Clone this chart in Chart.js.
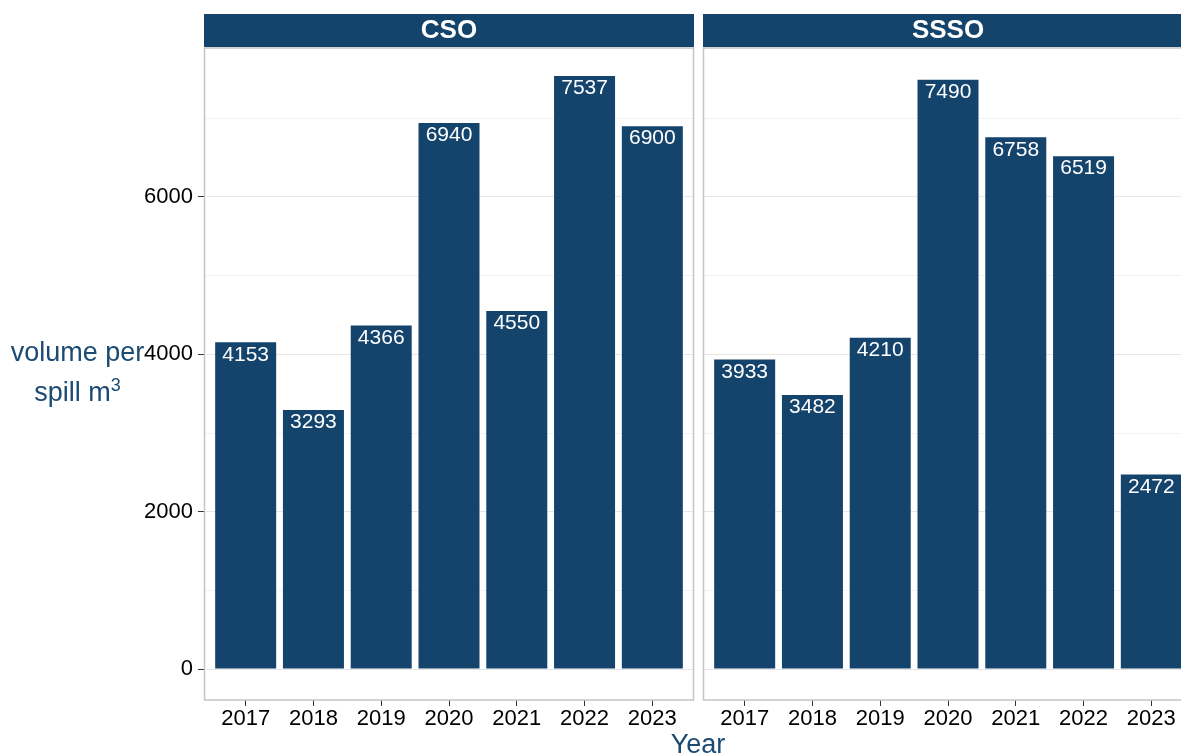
<!DOCTYPE html>
<html lang="en">

<head>
  <meta charset="UTF-8">
  <title>Volume per spill</title>
  <script src="https://cdn.jsdelivr.net/npm/chart.js"></script>
</head>
<style>
  body {
    margin: 0;
    background-color: #fff;
    font-family: 'Liberation Sans', Arial, sans-serif;
    width: 1181px;
    height: 756px;
    overflow: hidden;
    position: relative;
  }

  .painel {
    position: absolute;
    top: 0;
    height: 756px;
  }

  #painelCSO {
    left: 0;
    width: 700px;
  }

  #painelSSSO {
    left: 700px;
    width: 500px;
  }

  .tituloY {
    position: absolute;
    left: 0;
    width: 155px;
    top: 332px;
    text-align: center;
    color: #1b4a73;
    font-size: 27px;
    line-height: 40px;
  }

  .tituloY sup {
    font-size: 18px;
    line-height: 0;
  }

  .tituloX {
    position: absolute;
    left: 648px;
    width: 100px;
    top: 729px;
    text-align: center;
    color: #1b4a73;
    font-size: 27px;
  }
</style>

<body>
  <div class="painel" id="painelCSO">
    <canvas id="graficoCSO"></canvas>
  </div>
  <div class="painel" id="painelSSSO">
    <canvas id="graficoSSSO"></canvas>
  </div>
  <div class="tituloY">volume per<br>spill m<sup>3</sup></div>
  <div class="tituloX">Year</div>
</body>

</html>
<script>
  const anos = [2017, 2018, 2019, 2020, 2021, 2022, 2023];
  const volumeCSO = [4153, 3293, 4366, 6940, 4550, 7537, 6900];
  const volumeSSSO = [3933, 3482, 4210, 7490, 6758, 6519, 2472];
  const paineis = ["CSO", "SSSO"];
  const ticksY = [0, 2000, 4000, 6000];
  const gradeY = [0, 1000, 2000, 3000, 4000, 5000, 6000, 7000];

  const azul = "#14436c";

  // moldura do painel + faixa com o nome (estilo facet do ggplot)
  const pluginPainel = {
    id: "painel",
    afterDraw(chart, args, opts) {
      const c = chart.ctx;
      const a = chart.chartArea;
      c.save();
      c.strokeStyle = "#c4c4c4";
      c.lineWidth = 1.5;
      c.strokeRect(a.left - 0.5, a.top, a.right - a.left + 1, a.bottom - a.top);
      c.fillStyle = azul;
      c.fillRect(a.left - 1, 14, a.right - a.left + 2, 33);
      c.fillStyle = "#fff";
      c.font = "bold 26px 'Liberation Sans', Arial, sans-serif";
      c.textAlign = "center";
      c.textBaseline = "middle";
      c.fillText(opts.texto, (a.left + a.right) / 2, 31);
      c.restore();
    }
  };

  // valores em branco dentro do topo das barras
  const pluginRotulos = {
    id: "rotulos",
    afterDatasetsDraw(chart) {
      const c = chart.ctx;
      const meta = chart.getDatasetMeta(0);
      const dados = chart.data.datasets[0].data;
      c.save();
      c.fillStyle = "#fff";
      c.font = "21px 'Liberation Sans', Arial, sans-serif";
      c.textAlign = "center";
      c.textBaseline = "top";
      meta.data.forEach((barra, i) => {
        c.fillText(String(dados[i].y), barra.x, barra.y + 2);
      });
      c.restore();
    }
  };

  function criarGrafico(id, valores, nome, mostrarY, largura, padding) {
    const canvas = document.getElementById(id);
    canvas.width = largura;
    canvas.height = 756;
    canvas.style.width = largura + "px";
    canvas.style.height = "756px";

    return new Chart(canvas.getContext("2d"), {
      type: "bar",
      data: {
        datasets: [
          {
            label: nome,
            data: anos.map((ano, i) => ({ x: ano, y: valores[i] })),
            backgroundColor: azul,
            borderWidth: 0,
            barPercentage: 0.9,
            categoryPercentage: 1
          }
        ]
      },
      options: {
        responsive: false,
        animation: false,
        layout: {
          padding: padding
        },
        scales: {
          x: {
            type: "linear",
            min: 2016.4,
            max: 2023.6,
            offset: false,
            border: { display: false },
            grid: {
              offset: false,
              drawOnChartArea: false,
              drawTicks: true,
              tickLength: 6,
              tickColor: "#333"
            },
            ticks: {
              autoSkip: false,
              maxRotation: 0,
              padding: 0,
              color: "#000",
              font: { size: 22, family: "'Liberation Sans', Arial, sans-serif" },
              callback: v => String(v)
            },
            afterBuildTicks: s => { s.ticks = anos.map(v => ({ value: v })); },
            afterFit: s => { s.height = 56; }
          },
          y: {
            min: -394,
            max: 7894,
            border: { display: false },
            grid: {
              color: ctx => ticksY.includes(ctx.tick.value) ? "#e6e6e6" : "#f2f2f2",
              lineWidth: 1,
              drawTicks: mostrarY,
              tickLength: 7,
              tickColor: ctx => ticksY.includes(ctx.tick.value) ? "#333" : "rgba(0,0,0,0)"
            },
            ticks: {
              display: mostrarY,
              autoSkip: false,
              padding: 5,
              color: "#000",
              font: { size: 22, family: "'Liberation Sans', Arial, sans-serif" },
              callback: v => ticksY.includes(v) ? String(v) : ""
            },
            afterBuildTicks: s => { s.ticks = gradeY.map(v => ({ value: v })); },
            afterFit: s => { s.width = mostrarY ? 205 : 0; }
          }
        },
        plugins: {
          legend: { display: false },
          tooltip: { enabled: false },
          painel: { texto: nome }
        }
      },
      plugins: [pluginPainel, pluginRotulos]
    });
  }

  criarGrafico("graficoCSO", volumeCSO, paineis[0], true, 700,
    { top: 48, right: 7, bottom: 0, left: 0 });
  criarGrafico("graficoSSSO", volumeSSSO, paineis[1], false, 500,
    { top: 48, right: 8, bottom: 0, left: 4 });
</script>
